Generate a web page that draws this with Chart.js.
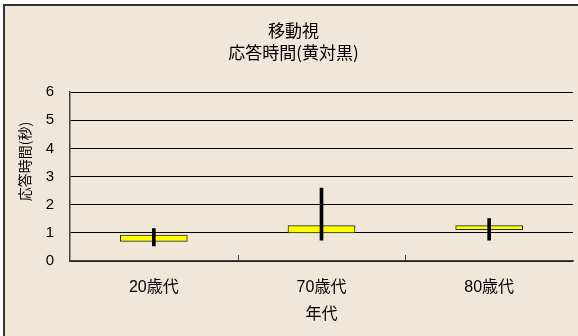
<!DOCTYPE html>
<html>
<head>
<meta charset="utf-8">
<script src="https://cdn.jsdelivr.net/npm/chart.js@4/dist/chart.umd.min.js"></script>
<style>
    body { margin: 0; background: #ffffff; overflow: hidden; width: 578px; height: 336px; position: relative; }
    #frame { position: absolute; left: 3px; top: 4px; width: 640px; height: 400px;
             border-left: 2px solid #333; border-top: 2px solid #333; background: #efe7d8; }
    #chart { position: absolute; left: 0; top: 0; }
</style>
</head>
<body>
<div id="frame"></div>
<canvas id="chart" width="588" height="336"></canvas>
<script>
// Данные: возрастные группы и время реакции (сек)
let categories = ['20歳代', '70歳代', '80歳代'];
let boxLow = [0.70, 1.00, 1.11];
let boxHigh = [0.92, 1.26, 1.26];
let whiskerLow = [0.54, 0.74, 0.74];
let whiskerHigh = [1.15, 2.59, 1.51];
let yTicks = [0, 1, 2, 3, 4, 5, 6];

let fontFamily = '"Liberation Sans", Arial, "Noto Sans CJK JP", sans-serif';
let cjkFamily = '"Noto Sans CJK JP", sans-serif';
let yTitle = '応答時間(秒)';

// Пары [мин, макс] для плавающих столбиков
let boxData = categories.map((c, i) => [boxLow[i], boxHigh[i]]);
let whiskerData = categories.map((c, i) => [whiskerLow[i], whiskerHigh[i]]);

// Риски между категориями (внутрь) и подпись оси Y чуть выше центра, как в оригинале
const extras = {
    id: 'extras',
    afterDatasetsDraw(chart) {
        let ctx = chart.ctx;
        let x = chart.scales.x;
        let area = chart.chartArea;
        ctx.save();
        ctx.strokeStyle = '#404040';
        ctx.lineWidth = 1;
        for (let i = 1; i < categories.length; i++) {
            let px = Math.round(x.getPixelForValue(i - 0.5)) + 0.5;
            ctx.beginPath();
            ctx.moveTo(px, area.bottom);
            ctx.lineTo(px, area.bottom - 6);
            ctx.stroke();
        }
        // подпись оси Y
        ctx.translate(25, (area.top + area.bottom) / 2 - 15);
        ctx.rotate(-Math.PI / 2);
        ctx.fillStyle = '#000';
        ctx.font = '14px ' + cjkFamily;
        ctx.textAlign = 'center';
        ctx.textBaseline = 'middle';
        ctx.fillText(yTitle, 0, 0);
        ctx.restore();
    }
};

new Chart(document.getElementById('chart'), {
    type: 'bar',
    data: {
        labels: categories,
        datasets: [{
            label: 'whisker',
            data: whiskerData,
            backgroundColor: '#000000',
            barThickness: 3,
            grouped: false,
            order: 0
        }, {
            label: 'box',
            data: boxData,
            backgroundColor: '#ffff00',
            borderColor: '#262626',
            borderWidth: 1,
            borderSkipped: false,
            barThickness: 67,
            grouped: false,
            order: 1
        }]
    },
    options: {
        responsive: false,
        animation: false,
        layout: { padding: { left: 14, right: 15, top: 0, bottom: 0 } },
        plugins: {
            legend: { display: false },
            tooltip: { enabled: false },
            title: {
                display: true,
                text: ['移動視', '応答時間(黄対黒)'],
                color: '#000',
                font: { family: cjkFamily, size: 17, weight: 'normal', lineHeight: 1.3 },
                padding: { top: 19, bottom: 29 }
            }
        },
        scales: {
            x: {
                grid: { display: false },
                border: { color: '#404040', width: 1.5 },
                ticks: { color: '#000', font: { family: fontFamily, size: 16 }, padding: 9 },
                title: {
                    display: true,
                    text: '年代',
                    color: '#000',
                    font: { family: fontFamily, size: 16 },
                    padding: { top: 0, bottom: 12 }
                },
                afterFit(scale) { scale.height = 75; }
            },
            y: {
                min: 0,
                max: 6,
                afterBuildTicks(scale) { scale.ticks = yTicks.map(v => ({ value: v })); },
                grid: { color: '#000', lineWidth: 1, drawTicks: false },
                border: { color: '#404040', width: 1.5 },
                ticks: { color: '#000', font: { family: fontFamily, size: 15 }, padding: 16 },
                afterFit(scale) { scale.width = 56; }
            }
        }
    },
    plugins: [extras]
});
</script>
</body>
</html>
